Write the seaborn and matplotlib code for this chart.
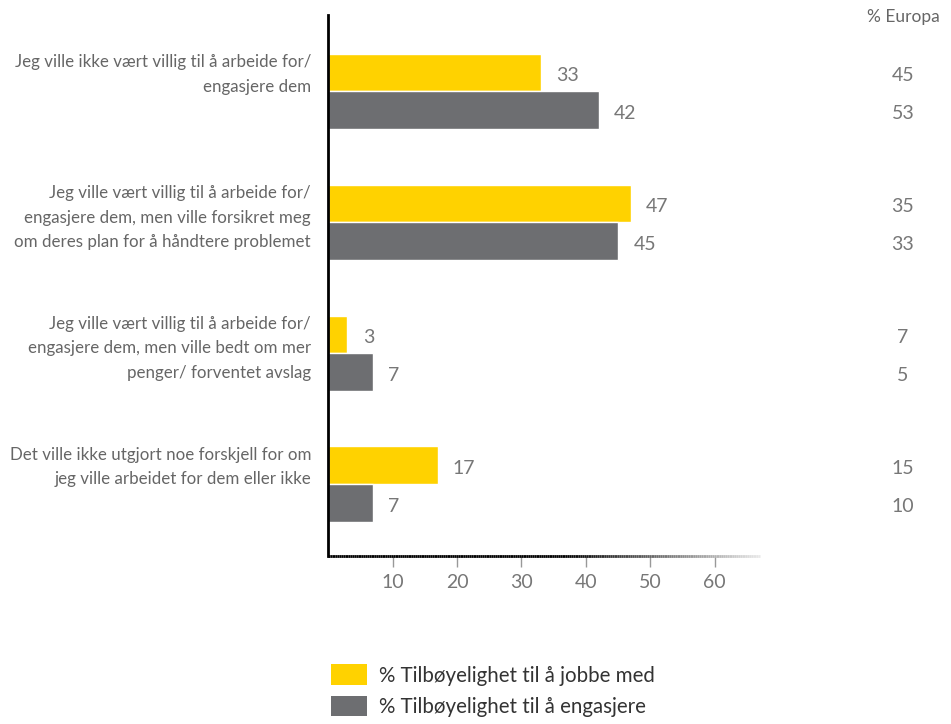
import numpy as np
import pandas as pd
import matplotlib
matplotlib.use("Agg")
import matplotlib.pyplot as plt
import seaborn as sns
from matplotlib.patches import Patch
from matplotlib.collections import LineCollection
import matplotlib.transforms as mtransforms

# Chart data
categories = [
    "Jeg ville ikke vært villig til å arbeide for/\nengasjere dem",
    "Jeg ville vært villig til å arbeide for/\nengasjere dem, men ville forsikret meg\nom deres plan for å håndtere problemet",
    "Jeg ville vært villig til å arbeide for/\nengasjere dem, men ville bedt om mer\npenger/ forventet avslag",
    "Det ville ikke utgjort noe forskjell for om\njeg ville arbeidet for dem eller ikke",
]
series = ["% Tilbøyelighet til å jobbe med", "% Tilbøyelighet til å engasjere"]
jobbe_med = [33, 47, 3, 17]
engasjere = [42, 45, 7, 7]
europa_jobbe = [45, 35, 7, 15]
europa_engasjere = [53, 33, 5, 10]
x_ticks = [10, 20, 30, 40, 50, 60]

colors = ["#FFD200", "#6D6E71"]
num_color = "#777777"

df = pd.DataFrame({
    "kategori": categories * 2,
    "serie": [series[0]] * 4 + [series[1]] * 4,
    "verdi": jobbe_med + engasjere,
})

sns.set_style("white")
plt.rcParams["font.family"] = ["Lato", "DejaVu Sans"]

fig = plt.figure(figsize=(9.51, 7.24), dpi=100)
ax = fig.add_axes([0.345, 0.232, 0.454, 0.747])

sns.barplot(data=df, y="kategori", x="verdi", hue="serie", hue_order=series,
            order=categories, palette=colors, saturation=1, width=0.573,
            orient="h", legend=False, ax=ax)

ax.set_xlim(0, 67)
ax.set_ylim(3.55, -0.58)
ax.set_xlabel("")
ax.set_ylabel("")
ax.set_yticks([])
ax.set_xticks(x_ticks)
ax.set_xticklabels([str(t) for t in x_ticks], fontsize=14, color=num_color)
ax.tick_params(axis="x", length=8, width=1, color="#999999", pad=5,
               bottom=True, direction="out")

# spines
for s in ["top", "right", "bottom"]:
    ax.spines[s].set_visible(False)
ax.spines["left"].set_color("black")
ax.spines["left"].set_linewidth(2)

# fading bottom axis line
xs = np.linspace(0, 1, 200)
segs = [[(xs[i], 0), (xs[i + 1], 0)] for i in range(len(xs) - 1)]
fade = np.clip((xs[:-1] - 0.55) / 0.45, 0, 1)
seg_colors = [(f * 0.92, f * 0.92, f * 0.92) for f in fade]
lc = LineCollection(segs, colors=seg_colors, linewidths=2,
                    transform=ax.transAxes, clip_on=False, capstyle="butt")
ax.add_collection(lc)

# value labels next to the bars
for cont in ax.containers:
    for bar in cont:
        w = bar.get_width()
        ax.annotate(f"{w:.0f}", (w, bar.get_y() + bar.get_height() / 2),
                    xytext=(11, -2.5), textcoords="offset points",
                    ha="left", va="center", fontsize=14, color=num_color)

# category labels, top-aligned with the yellow bar
trans = mtransforms.blended_transform_factory(fig.transFigure, ax.transData)
for i, cat in enumerate(categories):
    ax.text(311 / 951, i - 0.28, cat, transform=trans, ha="right", va="top",
            fontsize=12.2, color="#666666", linespacing=1.62)

# Europe column
fig.text(903 / 951, 1 - 17 / 724, "% Europa", ha="center", va="center",
         fontsize=12.5, color="#666666")
off = mtransforms.ScaledTranslation(0, -2.5 / 72, fig.dpi_scale_trans)
for i in range(len(categories)):
    ax.text(903 / 951, i - 0.143, str(europa_jobbe[i]),
            transform=trans + off, ha="center", va="center",
            fontsize=14, color=num_color)
    ax.text(903 / 951, i + 0.143, str(europa_engasjere[i]),
            transform=trans + off, ha="center", va="center",
            fontsize=14, color=num_color)

# legend
handles = [Patch(facecolor=c, edgecolor="none") for c in colors]
fig.legend(handles, series, loc="upper left",
           bbox_to_anchor=(323 / 951, 1 - 656 / 724), frameon=False,
           fontsize=14.8, handlelength=1.75, handleheight=1.17,
           labelspacing=0.49, handletextpad=0.58, borderaxespad=0,
           labelcolor="#333333")

fig.savefig("out.png", dpi=100)
